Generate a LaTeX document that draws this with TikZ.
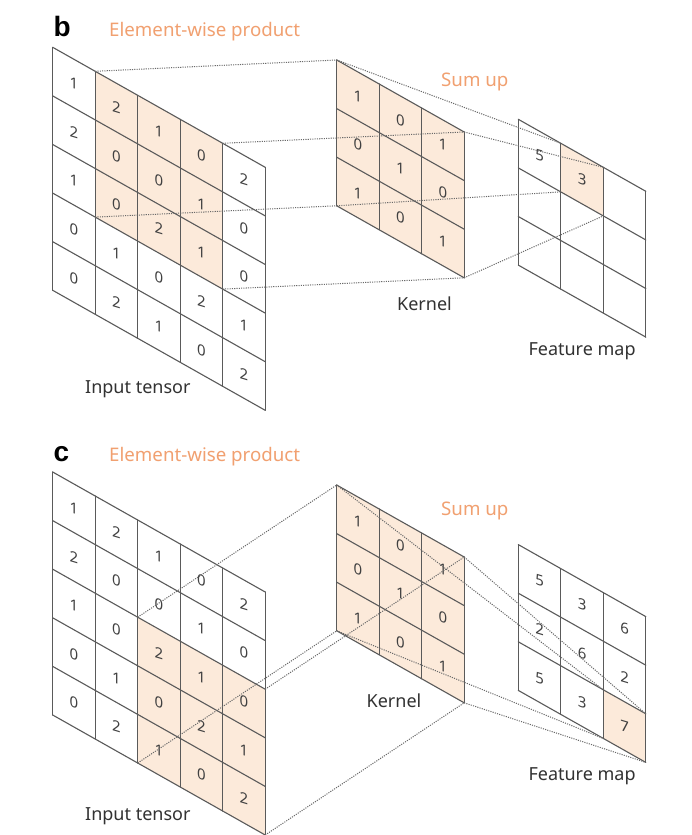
\documentclass[tikz,border=0pt]{standalone}
\usepackage{fontspec}
\setmainfont{Noto Sans}
\newfontfamily\panelfont{Liberation Sans}
\usetikzlibrary{calc}
\definecolor{gridline}{RGB}{90,90,90}
\definecolor{dotline}{RGB}{105,105,105}
\definecolor{hlfill}{RGB}{252,234,218}
\definecolor{orangetext}{RGB}{241,160,112}
\definecolor{digitcol}{RGB}{65,65,65}
\definecolor{labelcol}{RGB}{50,50,50}
\newcommand\gcw{42.5}
\newcommand\gcs{24}
\newcommand\gch{48.6}
\newcommand\gridbase[5]{%
  \foreach \i in {0,...,#4}{\foreach \j in {0,...,#5}{%
    \coordinate (#1-\i-\j) at ({#2+\i*\gcw},{#3+\i*\gcs+\j*\gch});}}%
  \fill[white] (#1-0-0) -- (#1-#4-0) -- (#1-#4-#5) -- (#1-0-#5) -- cycle;}
\newcommand\gridhl[5]{\fill[hlfill] (#1-#2-#3) -- (#1-#4-#3) -- (#1-#4-#5) -- (#1-#2-#5) -- cycle;}
\newcommand\gridlines[3]{%
  \foreach \i in {0,...,#2}{\draw[gridstroke] (#1-\i-0) -- (#1-\i-#3);}%
  \foreach \j in {0,...,#3}{\draw[gridstroke] (#1-0-\j) -- (#1-#2-\j);}}
\newcommand\griddigits[5]{%
  \foreach \v [count=\k from 0] in {#5}{%
    \pgfmathtruncatemacro\dcol{mod(\k,#4)}%
    \pgfmathtruncatemacro\drow{floor(\k/#4)}%
    \node[digit] (#1-d-\dcol-\drow) at ({#2+(\dcol+0.5)*\gcw},{#3+(\dcol+0.5)*\gcs+(\drow+0.5)*\gch}) {\v};}}
\begin{document}
\begin{tikzpicture}[x=1pt,y=-1pt,
  gridstroke/.style={draw=gridline,line width=1.1pt,line cap=round},
  dotted link/.style={draw=dotline,line width=1pt,dash pattern=on 1.1pt off 1.2pt},
  digit/.style={inner sep=0pt,text=digitcol,font=\fontsize{15}{15}\selectfont,yslant=-0.3},
  lab/.style={inner sep=0pt,anchor=base west,text=labelcol,font=\fontsize{18}{18}\selectfont},
  olab/.style={lab,text=orangetext,font=\fontsize{18.7}{19}\selectfont},
  panel/.style={inner sep=0pt,anchor=base west,text=black,font=\panelfont\bfseries\fontsize{28}{28}\selectfont}]
\useasboundingbox[fill=white] (0,0) rectangle (692,835);

% ---------------- panel b ----------------
\node[panel] (bl) at (53.5,36.7) {b};
\node[olab] (bew) at (109,36.7) {Element-wise product};
\node[olab] (bsum) at (441,86) {Sum up};

\gridbase{bI}{52.7}{47.3}{5}{5}
\gridhl{bI}{1}{0}{4}{3}
\gridlines{bI}{5}{5}
\griddigits{bI}{52.7}{47.3}{5}{1,2,1,0,2, 2,0,0,1,0, 1,0,2,1,0, 0,1,0,2,1, 0,2,1,0,2}

\gridbase{bK}{336.7}{60}{3}{3}
\gridhl{bK}{0}{0}{3}{3}
\gridlines{bK}{3}{3}
\griddigits{bK}{336.7}{60}{3}{1,0,1, 0,1,0, 1,0,1}

\gridbase{bF}{518.3}{119.3}{3}{3}
\gridhl{bF}{1}{0}{2}{1}
\gridlines{bF}{3}{3}
\griddigits{bF}{518.3}{119.3}{3}{5,3}

\node[lab] (binl) at (85,393.3) {Input tensor};
\node[lab] (bkl) at (397,310.7) {Kernel};
\node[lab] (bfl) at (528.3,355) {Feature map};

\draw[dotted link] (bI-1-0) -- (bK-0-0);
\draw[dotted link] (bI-4-0) -- (bK-3-0);
\draw[dotted link] (bI-1-3) -- (bK-0-3);
\draw[dotted link] (bI-4-3) -- (bK-3-3);
\draw[dotted link] (bK-0-0) -- (bF-1-0);
\draw[dotted link] (bK-3-0) -- (bF-2-0);
\draw[dotted link] (bK-0-3) -- (bF-1-1);
\draw[dotted link] (bK-3-3) -- (bF-2-1);

% ---------------- panel c ----------------
\node[panel] (cl) at (53.5,461.7) {c};
\node[olab] (cew) at (109,461.7) {Element-wise product};
\node[olab] (csum) at (441,515) {Sum up};

\gridbase{cI}{52.7}{472}{5}{5}
\gridhl{cI}{2}{2}{5}{5}
\gridlines{cI}{5}{5}
\griddigits{cI}{52.7}{472}{5}{1,2,1,0,2, 2,0,0,1,0, 1,0,2,1,0, 0,1,0,2,1, 0,2,1,0,2}

\gridbase{cK}{336.7}{485}{3}{3}
\gridhl{cK}{0}{0}{3}{3}
\gridlines{cK}{3}{3}
\griddigits{cK}{336.7}{485}{3}{1,0,1, 0,1,0, 1,0,1}

\gridbase{cF}{518.3}{544.6}{3}{3}
\gridhl{cF}{2}{2}{3}{3}
\gridlines{cF}{3}{3}
\griddigits{cF}{518.3}{544.6}{3}{5,3,6, 2,6,2, 5,3,7}

\node[lab] (cinl) at (85,820) {Input tensor};
\node[lab] (ckl) at (366.5,707.3) {Kernel};
\node[lab] (cfl) at (528.3,780.7) {Feature map};

\draw[dotted link] (cI-2-2) -- (cK-0-0);
\draw[dotted link] (cI-5-2) -- (cK-3-0);
\draw[dotted link] (cI-2-5) -- (cK-0-3);
\draw[dotted link] (cI-5-5) -- (cK-3-3);
\draw[dotted link] (cK-0-0) -- (cF-2-2);
\draw[dotted link] (cK-3-0) -- (cF-3-2);
\draw[dotted link] (cK-0-3) -- (cF-2-3);
\draw[dotted link] (cK-3-3) -- (cF-3-3);
\end{tikzpicture}
\end{document}
